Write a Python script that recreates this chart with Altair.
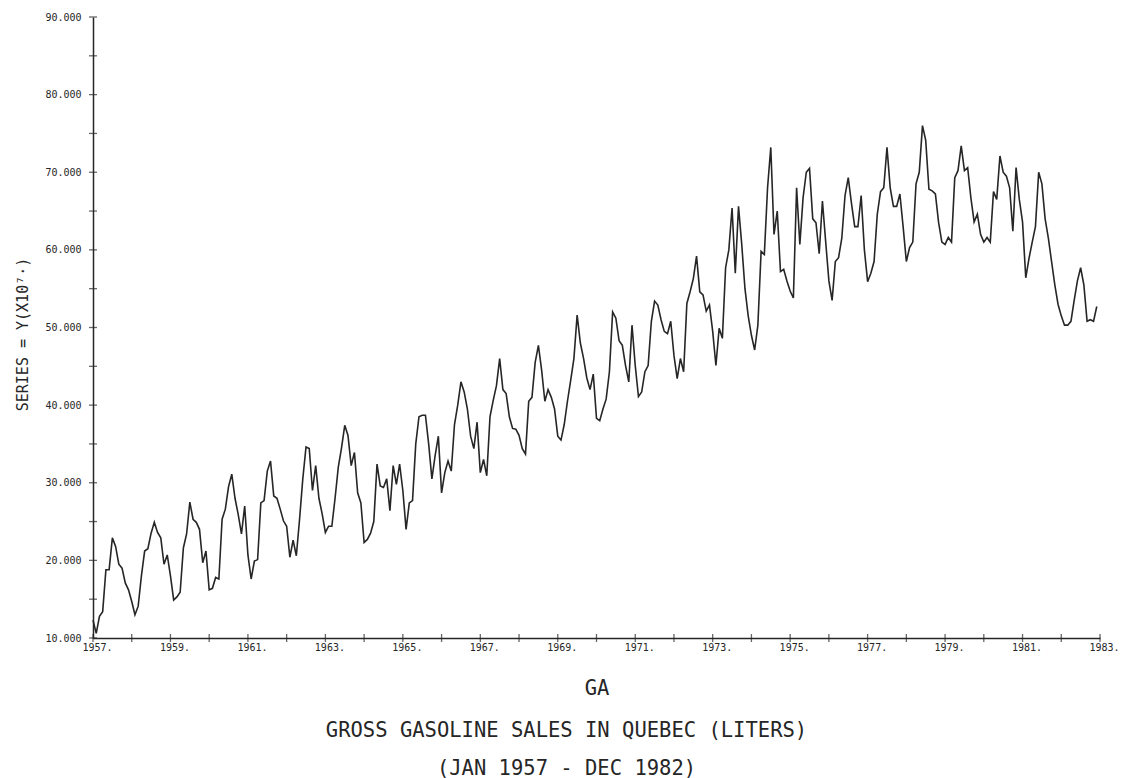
import altair as alt
import pandas as pd

# Monthly gross gasoline sales in Quebec (units of 10^7 liters), Jan 1957 - Dec 1982
years = list(range(1957, 1983))
monthly_sales = [
    [12.3, 10.6, 12.8, 13.4, 18.8, 18.8, 22.9, 21.8, 19.5, 19.0, 17.1, 16.2],  # 1957
    [14.7, 13.0, 14.1, 18.0, 21.2, 21.5, 23.5, 24.9, 23.6, 22.9, 19.5, 20.7],  # 1958
    [18.0, 14.9, 15.3, 15.9, 21.6, 23.4, 27.5, 25.3, 24.9, 24.0, 19.7, 21.2],  # 1959
    [16.2, 16.4, 17.8, 17.6, 25.3, 26.6, 29.5, 31.1, 28.0, 25.9, 23.4, 27.0],  # 1960
    [20.7, 17.6, 19.9, 20.1, 27.4, 27.7, 31.5, 32.8, 28.3, 28.0, 26.6, 25.1],  # 1961
    [24.4, 20.4, 22.6, 20.6, 25.3, 30.5, 34.6, 34.4, 29.0, 32.2, 28.0, 26.0],  # 1962
    [23.6, 24.4, 24.4, 28.0, 32.0, 34.5, 37.4, 36.1, 32.2, 33.9, 28.7, 27.4],  # 1963
    [22.3, 22.7, 23.5, 25.0, 32.4, 29.6, 29.4, 30.5, 26.4, 32.2, 29.8, 32.4],  # 1964
    [29.0, 24.0, 27.4, 27.7, 35.0, 38.5, 38.7, 38.7, 35.0, 30.5, 33.5, 36.0],  # 1965
    [28.7, 31.3, 32.8, 31.5, 37.5, 40.0, 43.0, 41.7, 39.5, 36.0, 34.4, 37.8],  # 1966
    [31.3, 33.0, 30.9, 38.5, 40.6, 42.5, 46.0, 42.0, 41.5, 38.5, 37.0, 36.9],  # 1967
    [36.1, 34.4, 33.7, 40.5, 41.0, 45.5, 47.7, 44.5, 40.5, 42.0, 41.0, 39.5],  # 1968
    [36.0, 35.5, 37.5, 40.5, 43.2, 46.0, 51.6, 48.0, 46.0, 43.5, 42.0, 44.0],  # 1969
    [38.3, 38.0, 39.5, 40.8, 44.3, 52.0, 51.2, 48.3, 47.7, 45.1, 43.0, 50.3],  # 1970
    [45.1, 41.1, 41.7, 44.3, 45.1, 50.8, 53.4, 52.9, 51.0, 49.5, 49.2, 50.8],  # 1971
    [46.4, 43.4, 46.0, 44.3, 53.1, 54.6, 56.3, 59.2, 54.6, 54.2, 52.1, 52.9],  # 1972
    [49.5, 45.1, 49.9, 48.6, 57.7, 60.0, 65.4, 57.0, 65.6, 60.7, 55.0, 51.5],  # 1973
    [49.0, 47.1, 50.3, 59.8, 59.4, 68.0, 73.2, 62.0, 65.0, 57.2, 57.5, 56.0],  # 1974
    [54.7, 53.8, 68.0, 60.7, 66.7, 70.0, 70.5, 64.0, 63.5, 59.5, 66.3, 61.1],  # 1975
    [56.0, 53.5, 58.5, 59.0, 61.5, 67.0, 69.3, 66.0, 63.0, 63.0, 67.0, 60.0],  # 1976
    [55.9, 57.0, 58.5, 64.6, 67.5, 68.0, 73.2, 68.0, 65.6, 65.6, 67.2, 63.0],  # 1977
    [58.5, 60.3, 61.0, 68.5, 70.0, 76.0, 74.1, 67.8, 67.6, 67.2, 63.5, 61.0],  # 1978
    [60.7, 61.6, 61.0, 69.3, 70.2, 73.4, 70.2, 70.6, 66.7, 63.6, 64.6, 62.0],  # 1979
    [61.0, 61.6, 61.0, 67.5, 66.5, 72.1, 70.0, 69.5, 68.0, 62.4, 70.6, 66.5],  # 1980
    [63.6, 56.4, 58.9, 61.0, 63.0, 70.0, 68.5, 64.0, 61.5, 58.5, 55.5, 53.0],  # 1981
    [51.5, 50.3, 50.3, 50.8, 53.5, 56.0, 57.7, 55.5, 50.8, 51.0, 50.8, 52.7],  # 1982
]

x_tick_years = list(range(1957, 1984))
x_label_years = list(range(1957, 1984, 2))
y_tick_values = list(range(10, 95, 5))
y_label_values = list(range(10, 100, 10))

rows = []
for yr, vals in zip(years, monthly_sales):
    for m, v in enumerate(vals):
        rows.append({"t": yr + m / 12.0, "sales": v})
df = pd.DataFrame(rows)

FONT = "DejaVu Sans Mono"
INK = "#262626"

xscale = alt.Scale(domain=[1957, 1983], nice=False, zero=False)
yscale = alt.Scale(domain=[10, 90], nice=False, zero=False)

line = alt.Chart(df).mark_line(color=INK, strokeWidth=1.6).encode(
    x=alt.X("t:Q", scale=xscale,
            axis=alt.Axis(values=x_label_years, format="d", labelExpr="datum.label + '.'",
                          ticks=False, tickSize=0, grid=False, labelFont=FONT,
                          labelFontSize=10, labelColor=INK, labelPadding=4, labelOffset=4,
                          labelFlush=False,
                          domainColor=INK, domainWidth=1.5,
                          title="GA", titleFont=FONT, titleFontSize=20.5,
                          titleFontWeight="normal", titleColor=INK,
                          titleBaseline="middle", titleY=50)),
    y=alt.Y("sales:Q", scale=yscale,
            axis=alt.Axis(values=y_label_values, format=".3f", ticks=False, tickSize=0,
                          grid=False, labelFont=FONT, labelFontSize=10, labelColor=INK,
                          labelPadding=12, labelFlush=False, domainColor=INK, domainWidth=1.5,
                          title="SERIES = Y(X10\u2077\u00b7)", titleFont=FONT,
                          titleFontSize=15, titleFontWeight="normal", titleColor=INK,
                          titleAngle=270, titleBaseline="middle", titleAlign="center",
                          titleX=-71, titleY=317)),
)

xticks = alt.Chart(pd.DataFrame({"yr": x_tick_years, "base": [10] * len(x_tick_years)})).mark_tick(
    orient="vertical", size=8, thickness=1.3, color=INK
).encode(x=alt.X("yr:Q", scale=xscale), y=alt.Y("base:Q", scale=yscale))

yticks = alt.Chart(pd.DataFrame({"v": y_tick_values, "base": [1957] * len(y_tick_values)})).mark_tick(
    orient="horizontal", size=8, thickness=1.3, color=INK
).encode(x=alt.X("base:Q", scale=xscale), y=alt.Y("v:Q", scale=yscale))

chart = alt.layer(line, xticks, yticks).properties(
    width=1007,
    height=621,
    autosize=alt.AutoSizeParams(type="none"),
    padding={"left": 93, "top": 17, "right": 26, "bottom": 140},
    title=alt.TitleParams(
        text=["GROSS GASOLINE SALES IN QUEBEC (LITERS)", "(JAN 1957 - DEC 1982)"],
        orient="bottom", anchor="middle", font=FONT, fontSize=20.5, fontWeight="normal",
        color=INK, lineHeight=38, dx=-30, offset=22,
    ),
    background="white",
).configure_view(stroke=None)

chart.save("out.html", embed_options={"renderer": "svg", "actions": False})
